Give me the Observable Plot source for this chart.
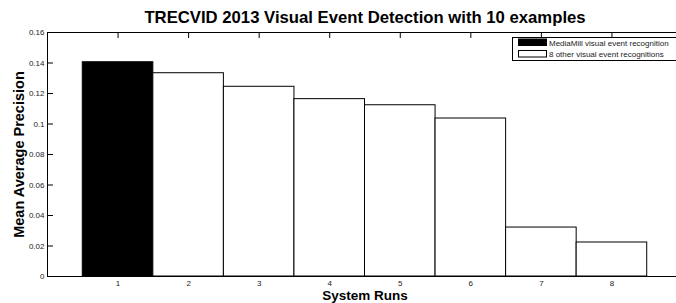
<!DOCTYPE html>
<html><head><meta charset="utf-8">
<script src="https://cdn.jsdelivr.net/npm/d3@7"></script>
<script src="https://cdn.jsdelivr.net/npm/@observablehq/plot@0.6"></script>
<style>html,body{margin:0;padding:0;background:#fff} svg{display:block}</style>
</head><body><div id="chart"></div>
<script>
const title = "TRECVID 2013 Visual Event Detection with 10 examples";
const xLabel = "System Runs";
const yLabel = "Mean Average Precision";
const runs = [1, 2, 3, 4, 5, 6, 7, 8];
const meanAP = [0.1405, 0.1333, 0.1244, 0.1163, 0.1123, 0.1036, 0.0321, 0.0223];
const groupIndex = [0, 1, 1, 1, 1, 1, 1, 1];
const legendLabels = ["MediaMill visual event recognition", "8 other visual event recognitions"];
const legendColors = ["black", "white"];
const yTicks = [0, 0.02, 0.04, 0.06, 0.08, 0.1, 0.12, 0.14, 0.16];
const xTicks = [1, 2, 3, 4, 5, 6, 7, 8];
const xDomain = [0, 9];
const yDomain = [0, 0.16];

const data = runs.map((r, i) => ({run: r, value: meanAP[i], group: legendLabels[groupIndex[i]]}));
const font = "'Liberation Sans', Arial, Helvetica, sans-serif";
const fmt = d3.format("~g");
const none = () => "";

const chart = Plot.plot({
  width: 676, height: 303,
  marginLeft: 47, marginRight: -6, marginTop: 32, marginBottom: 27,
  style: {fontFamily: font, background: "white", overflow: "hidden", color: "black"},
  x: {domain: xDomain, axis: null, label: null},
  y: {domain: yDomain, axis: null, label: null},
  color: {domain: legendLabels, range: legendColors},
  marks: [
    Plot.axisX(xTicks, {anchor: "bottom", tickSize: -6, tickFormat: none, label: null}),
    Plot.rectY(data, {x1: d => d.run - 0.5, x2: d => d.run + 0.5, y: "value", fill: "group", stroke: "black", strokeWidth: 1}),
    Plot.axisX(xTicks, {anchor: "bottom", tickSize: 0, tickPadding: 4, fontSize: 8, fill: "#222", tickFormat: d => String(d), label: null}),
    Plot.axisX(xTicks, {anchor: "top", tickSize: -5, tickFormat: none, label: null}),
    Plot.axisY(yTicks, {anchor: "left", tickSize: -6, tickPadding: 9, fontSize: 8, fill: "#222", tickFormat: fmt, label: null}),
    Plot.axisY(yTicks, {anchor: "right", tickSize: -6, tickFormat: none, label: null}),
    Plot.frame({stroke: "black", strokeWidth: 1}),
    Plot.text([title], {frameAnchor: "top", dy: -9.5, lineAnchor: "bottom", textAnchor: "middle", fontSize: 16.7, fontWeight: "bold", fill: "black"}),
    Plot.text([xLabel], {frameAnchor: "bottom", dy: 23.8, lineAnchor: "bottom", textAnchor: "middle", fontSize: 13.5, fontWeight: "bold", fill: "black"}),
    Plot.text([yLabel], {frameAnchor: "left", dx: -24, rotate: -90, lineAnchor: "bottom", textAnchor: "middle", fontSize: 14.5, fontWeight: "bold", fill: "black"})
  ]
});

// legend box (MATLAB-style, inside the axes, top-right)
const svg = d3.select(chart);
const lg = svg.append("g").attr("font-family", font).attr("font-size", 8).attr("text-anchor", "start");
lg.append("rect").attr("x", 512.5).attr("y", 37.5).attr("width", 180).attr("height", 23)
  .attr("fill", "white").attr("stroke", "black").attr("stroke-width", 1);
legendLabels.forEach((lab, i) => {
  const y0 = [39, 50.5][i];
  lg.append("rect").attr("x", 518.5).attr("y", y0).attr("width", 28).attr("height", 6.5)
    .attr("fill", legendColors[i]).attr("stroke", "black").attr("stroke-width", 1);
  lg.append("text").attr("x", 549).attr("y", y0 + 6.8).attr("text-anchor", "start").attr("fill", "#222").text(lab);
});

document.getElementById("chart").appendChild(chart);
</script>
</body></html>
